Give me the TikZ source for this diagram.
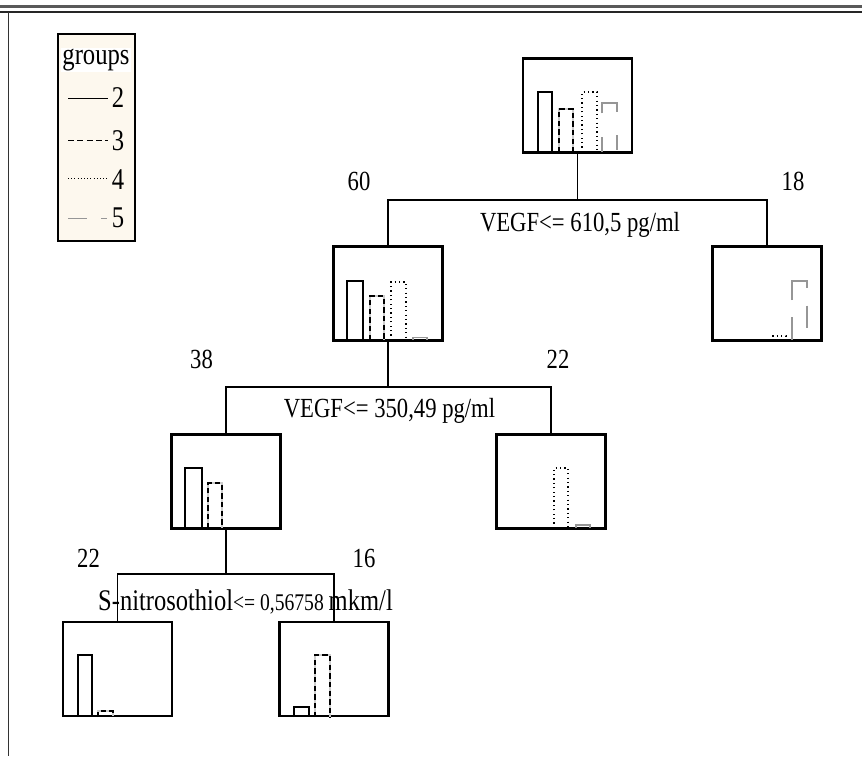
\documentclass[tikz,border=0pt]{standalone}
\usepackage{fontspec}
\setmainfont{Liberation Serif}
\usepackage{graphicx}
\definecolor{cream}{RGB}{253,248,238}
\definecolor{gbar}{RGB}{150,150,150}
\definecolor{gunder}{RGB}{205,205,205}
\newcommand{\st}[1]{\scalebox{1}[1.22]{#1}}
\newcommand{\drawbar}[5]{\draw[#1] (#2,#5) -- (#2,#4) -- (#3,#4) -- (#3,#5);}
\newcommand{\dashbar}[4]{\draw[line width=1pt, gunder] (#1,#4) -- (#1,#3) -- (#2,#3) -- (#2,#4);\draw[bd] (#1,#4) -- (#1,#3) -- (#2,#3) -- (#2,#4);}
\begin{document}
\begin{tikzpicture}[x=0.75pt,y=-0.75pt,
  box/.style={draw, line width=1.6pt, minimum width=81.75pt, minimum height=70.5pt, inner sep=0pt},
  conn/.style={line width=1.35pt},
  bs/.style={line width=1.3pt},
  bd/.style={line width=1.3pt, dash pattern=on 4pt off 2.5pt},
  bo/.style={line width=1.4pt, dash pattern=on 0.9pt off 2.4pt},
  bg/.style={line width=1.2pt, gbar},
  lbl/.style={font=\fontsize{17}{20}\selectfont, inner sep=0pt},
  leg/.style={font=\fontsize{18.5}{22}\selectfont, inner sep=0pt}]
\useasboundingbox (0,0) rectangle (862,756);
% outer frame
\draw[line width=1.6pt, black!65] (0,6.5) -- (862,6.5);
\draw[line width=1.3pt, black!85] (0,12.3) -- (862,12.3);
\draw[line width=1.3pt, black!80] (8.5,12.3) -- (8.5,756);
% legend
\node[draw, line width=1.4pt, fill=cream, minimum width=57.75pt, minimum height=155.25pt, inner sep=0pt] (legend) at (96.5,137.5) {};
\node[leg, fill=white, inner sep=1pt] (lgt) at (96,60) {\st{groups}};
\coordinate (l2a) at (68,98.5); \coordinate (l2b) at (108,98.5);
\coordinate (l3a) at (68,140.5); \coordinate (l3b) at (108,140.5);
\coordinate (l4a) at (68,178.5); \coordinate (l4b) at (108,178.5);
\coordinate (l5a) at (68,218.5); \coordinate (l5b) at (108,218.5);
\draw[line width=1.3pt] (l2a) -- (l2b);
\draw[line width=1.2pt, dash pattern=on 4.5pt off 2.5pt] (l3a) -- (l3b);
\draw[line width=1.2pt, dash pattern=on 0.8pt off 1.6pt] (l4a) -- (l4b);
\draw[line width=1.2pt, gbar, dash pattern=on 14pt off 11pt on 4.5pt off 2pt] (l5a) -- (l5b);
\node[leg] (lg2) at (118,98) {\st{2}};
\node[leg] (lg3) at (118,141) {\st{3}};
\node[leg] (lg4) at (118,180) {\st{4}};
\node[leg] (lg5) at (118,218) {\st{5}};
% boxes
\node[box] (root) at (577.5,105.5) {};
\node[box] (n2) at (388,293.5) {};
\node[box] (n3) at (767,293.5) {};
\node[box] (n4) at (226,481.5) {};
\node[box] (n5) at (551,481.5) {};
\node[box] (n6) at (117.5,669) {};
\node[box] (n7) at (334,669) {};
% bars root
\drawbar{bs}{538}{552}{92}{152}
\dashbar{559}{573}{109}{152}
\drawbar{bo}{582}{597}{92}{152}
\drawbar{bg, dash pattern=on 11pt off 18pt on 26pt off 17pt}{602}{617}{103}{152}
% bars n2
\drawbar{bs}{347}{363}{281}{340}
\dashbar{370}{384}{296}{340}
\drawbar{bo}{391}{406}{282}{340}
\drawbar{line width=1.2pt, gbar}{413}{427}{337.5}{340}
% bars n3
\drawbar{bo}{772}{786}{336}{340}
\drawbar{bg, dash pattern=on 17pt off 13pt on 31pt off 13pt}{792}{807}{281}{340}
% bars n4
\drawbar{bs}{185}{202}{468}{528}
\dashbar{208}{222}{483}{528}
% bars n5
\drawbar{bo}{554}{568}{468}{528}
\drawbar{line width=1.2pt, gbar}{576}{590}{525}{528}
% bars n6
\drawbar{bs}{78}{92}{655}{717}
\dashbar{98}{113}{711}{717}
% bars n7
\drawbar{bs}{294}{309}{707}{717}
\dashbar{315}{330}{655}{717}
% connectors
\coordinate (s1) at (0,200);
\coordinate (s2) at (0,387);
\coordinate (s3) at (0,574);
\draw[conn] (root.south) -- (root.south |- s1);
\draw[conn] (n2.north) -- (n2.north |- s1) -- (n3.north |- s1) -- (n3.north);
\draw[conn] (n2.south) -- (n2.south |- s2);
\draw[conn] (n4.north) -- (n4.north |- s2) -- (n5.north |- s2) -- (n5.north);
\draw[conn] (n4.south) -- (n4.south |- s3);
\draw[conn] (n6.north) -- (n6.north |- s3) -- (n7.north |- s3) -- (n7.north);
% labels
\node[lbl] (c60) at (359,181) {\st{60}};
\node[lbl] (c18) at (793,181) {\st{18}};
\node[lbl] (t1) at (580,225) {\st{VEGF<= 610,5 pg/ml}};
\node[lbl] (c38) at (201.5,359) {\st{38}};
\node[lbl] (c22a) at (558,359) {\st{22}};
\node[lbl] (t2) at (389.5,411) {\st{VEGF<= 350,49 pg/ml}};
\node[lbl] (c22b) at (88.5,558) {\st{22}};
\node[lbl] (c16) at (364,558) {\st{16}};
\node[inner sep=0pt] (t3) at (245.5,602) {\st{{\fontsize{18.4}{22}\selectfont S-nitrosothiol}{\fontsize{14.7}{18}\selectfont<= 0,56758 }{\fontsize{18.4}{22}\selectfont mkm/l}}};
\end{tikzpicture}
\end{document}
